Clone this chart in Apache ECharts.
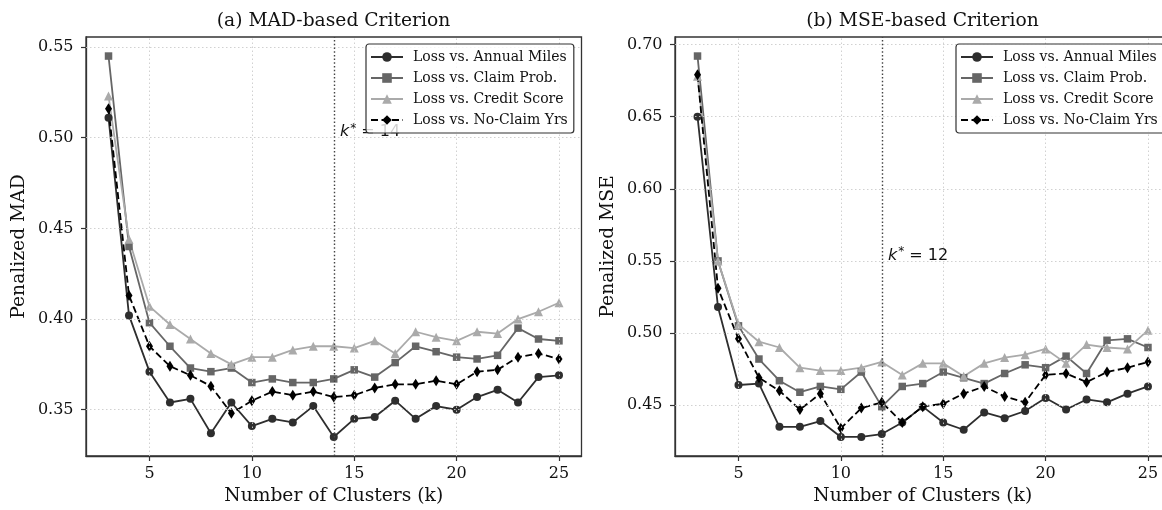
<!DOCTYPE html>
<html>
<head>
<meta charset="utf-8">
<script src="https://cdn.jsdelivr.net/npm/echarts@6/dist/echarts.min.js"></script>
<style>
html,body{margin:0;padding:0;background:#fff;}
#chart{width:1162px;height:510px;}
</style>
</head>
<body>
<div id="chart"></div>
<script>
// ---- data ----
const kValues = [3,4,5,6,7,8,9,10,11,12,13,14,15,16,17,18,19,20,21,22,23,24,25];
const seriesNames = ['Loss vs. Annual Miles','Loss vs. Claim Prob.','Loss vs. Credit Score','Loss vs. No-Claim Yrs'];

const annualMilesMAD = [0.511,0.402,0.371,0.354,0.356,0.337,0.354,0.341,0.345,0.343,0.352,0.335,0.345,0.346,0.355,0.345,0.352,0.350,0.357,0.361,0.354,0.368,0.369];
const claimProbMAD   = [0.545,0.440,0.398,0.385,0.373,0.371,0.373,0.365,0.367,0.365,0.365,0.367,0.372,0.368,0.376,0.385,0.382,0.379,0.378,0.380,0.395,0.389,0.388];
const creditScoreMAD = [0.523,0.444,0.407,0.397,0.389,0.381,0.375,0.379,0.379,0.383,0.385,0.385,0.384,0.388,0.381,0.393,0.390,0.388,0.393,0.392,0.400,0.404,0.409];
const noClaimYrsMAD  = [0.516,0.413,0.385,0.374,0.369,0.363,0.348,0.355,0.360,0.358,0.360,0.357,0.358,0.362,0.364,0.364,0.366,0.364,0.371,0.372,0.379,0.381,0.378];

const annualMilesMSE = [0.650,0.518,0.464,0.465,0.435,0.435,0.439,0.428,0.428,0.430,0.438,0.449,0.438,0.433,0.445,0.441,0.446,0.455,0.447,0.454,0.452,0.458,0.463];
const claimProbMSE   = [0.692,0.550,0.505,0.482,0.467,0.459,0.463,0.461,0.473,0.449,0.463,0.465,0.473,0.469,0.465,0.472,0.478,0.476,0.484,0.472,0.495,0.496,0.490];
const creditScoreMSE = [0.678,0.550,0.506,0.494,0.490,0.476,0.474,0.474,0.476,0.480,0.471,0.479,0.479,0.470,0.479,0.483,0.485,0.489,0.479,0.492,0.490,0.489,0.502];
const noClaimYrsMSE  = [0.679,0.531,0.496,0.469,0.460,0.447,0.458,0.434,0.448,0.452,0.438,0.449,0.451,0.458,0.463,0.456,0.452,0.471,0.472,0.466,0.473,0.476,0.480];

const xTicks = [5,10,15,20,25];
const yTicksMAD = [0.35,0.40,0.45,0.50,0.55];
const yTicksMSE = [0.45,0.50,0.55,0.60,0.65,0.70];

const kStarMAD = 14, kStarMSE = 12;
const kLabelYMAD = 0.50, kLabelYMSE = 0.55;

const titles = ['(a) MAD-based Criterion','(b) MSE-based Criterion'];
const yNames = ['Penalized MAD','Penalized MSE'];
const xName = 'Number of Clusters (k)';

// ---- styling ----
const SERIF = 'DejaVu Serif';
const colors = ['#2e2e2e','#666666','#aaaaaa','#000000'];
const symbols = ['circle','rect','triangle','diamond'];
const symbolSizes = [8,7.5,9,[7,11]];
const lineTypes = ['solid','solid','solid',[7,3.5]];

function margins(arrs){
  let mn=Infinity,mx=-Infinity;
  arrs.forEach(a=>a.forEach(v=>{mn=Math.min(mn,v);mx=Math.max(mx,v);}));
  const r=mx-mn; return [mn-0.05*r, mx+0.05*r];
}
const xSpan = kValues[kValues.length-1]-kValues[0];
const xMin = kValues[0] - 0.05*xSpan;
const xMax = kValues[kValues.length-1] + 0.05*xSpan;

const madSets = [annualMilesMAD,claimProbMAD,creditScoreMAD,noClaimYrsMAD];
const mseSets = [annualMilesMSE,claimProbMSE,creditScoreMSE,noClaimYrsMSE];
const yLimMAD = margins(madSets), yLimMSE = margins(mseSets);

const axisColor = '#333';
function xAxis(gi){
  return {
    type:'value', gridIndex:gi, min:xMin, max:xMax,
    name:xName, nameLocation:'middle', nameGap:28,
    nameTextStyle:{fontFamily:SERIF,fontSize:18.7,color:'#111'},
    axisLine:{show:true,lineStyle:{color:axisColor,width:1.3}},
    axisTick:{show:true,inside:false,length:5,customValues:xTicks,lineStyle:{color:axisColor,width:1.2}},
    axisLabel:{show:true,customValues:xTicks,margin:10,fontFamily:SERIF,fontSize:16,color:'#111',formatter:v=>String(v)},
    splitLine:{show:false}
  };
}
function yAxis(gi,lim,ticks,name){
  return {
    type:'value', gridIndex:gi, min:lim[0], max:lim[1],
    name:name, nameLocation:'middle', nameGap:57, nameRotate:90,
    nameTextStyle:{fontFamily:SERIF,fontSize:18.7,color:'#111'},
    axisLine:{show:true,lineStyle:{color:axisColor,width:1.3}},
    axisTick:{show:true,inside:false,length:5,customValues:ticks,lineStyle:{color:axisColor,width:1.2}},
    axisLabel:{show:true,customValues:ticks,margin:12.5,fontFamily:SERIF,fontSize:16,color:'#111',formatter:v=>v.toFixed(2)},
    splitLine:{show:false}
  };
}

function gridLineSeries(gi, yTicks){
  return {
    type:'line', xAxisIndex:gi, yAxisIndex:gi, data:[], silent:true, z:1,
    markLine:{
      silent:true, symbol:['none','none'], animation:false, label:{show:false},
      lineStyle:{color:'#cccccc',width:0.9,type:[1.5,2.5]},
      emphasis:{disabled:true},
      data:[].concat(xTicks.map(v=>({xAxis:v})), yTicks.map(v=>({yAxis:v})))
    }
  };
}

function makeSeries(sets, gi, kStar, labelY){
  return sets.map((vals,i)=>{
    const s = {
      name:seriesNames[i], type:'line', xAxisIndex:gi, yAxisIndex:gi,
      data:kValues.map((k,j)=>[k,vals[j]]),
      symbol:symbols[i], symbolSize:symbolSizes[i], showSymbol:true,
      lineStyle:{color:colors[i],width:1.8,type:lineTypes[i]},
      itemStyle:{color:colors[i]},
      emphasis:{disabled:true}, z:2
    };
    if(i===0){
      s.markLine = {
        silent:true, symbol:['none','none'], animation:false,
        lineStyle:{color:'#444',width:1.4,type:[1.5,2.2]},
        label:{show:false}, emphasis:{disabled:true},
        data:[{xAxis:kStar}]
      };
      s.markPoint = {
        silent:true, symbol:'circle', symbolSize:0, animation:false,
        data:[{coord:[kStar+0.3,labelY]}],
        label:{show:true, position:[0,4], align:'left', verticalAlign:'bottom',
          formatter:'{k|k}{s|*}{t| = '+kStar+'}',
          rich:{
            k:{fontFamily:'DejaVu Sans',fontStyle:'italic',fontSize:16,color:'#111'},
            s:{fontFamily:'DejaVu Sans',fontSize:12,color:'#111',padding:[0,0,7,1]},
            t:{fontFamily:'DejaVu Sans',fontSize:16,color:'#111'}
          }}
      };
    }
    return s;
  });
}

function legend(left){
  return {
    left:left, top:44, orient:'vertical', z:20,
    itemWidth:32, itemHeight:12, itemGap:7,
    padding:[6,6,6,4],
    backgroundColor:'rgba(255,255,255,0.8)', borderColor:'#333', borderWidth:1.2, borderRadius:3,
    textStyle:{fontFamily:SERIF,fontSize:14,color:'#111',padding:[0,0,0,5]},
    selectedMode:false,
    data:seriesNames
  };
}

const option = {
  animation:false,
  backgroundColor:'#fff',
  title:[
    {text:titles[0],left:333.5,top:12,textAlign:'center',padding:0,textStyle:{fontFamily:SERIF,fontSize:18.7,fontWeight:'normal',color:'#111'}},
    {text:titles[1],left:922.5,top:12,textAlign:'center',padding:0,textStyle:{fontFamily:SERIF,fontSize:18.7,fontWeight:'normal',color:'#111'}}
  ],
  grid:[
    {left:86,top:37,width:495.5,height:419,show:true,borderColor:axisColor,borderWidth:1.3,backgroundColor:'transparent',outerBoundsMode:'none',containLabel:false},
    {left:675,top:37,width:495.5,height:419,show:true,borderColor:axisColor,borderWidth:1.3,backgroundColor:'transparent',outerBoundsMode:'none',containLabel:false}
  ],
  legend:[legend(366),legend(956)],
  xAxis:[xAxis(0),xAxis(1)],
  yAxis:[yAxis(0,yLimMAD,yTicksMAD,yNames[0]),yAxis(1,yLimMSE,yTicksMSE,yNames[1])],
  series:[gridLineSeries(0,yTicksMAD), gridLineSeries(1,yTicksMSE)]
    .concat(makeSeries(madSets,0,kStarMAD,kLabelYMAD), makeSeries(mseSets,1,kStarMSE,kLabelYMSE))
};

const chart = echarts.init(document.getElementById('chart'),null,{renderer:'canvas'});
chart.setOption(option);
</script>
</body>
</html>
